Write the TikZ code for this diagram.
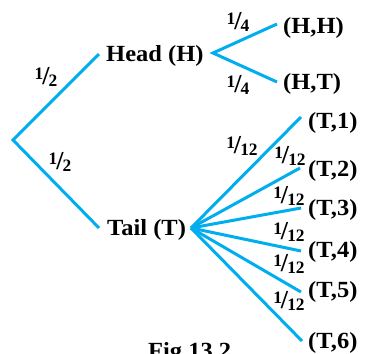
\documentclass[tikz,border=0pt]{standalone}
\usepackage{fontspec}
\setmainfont{Liberation Serif}
\newfontfamily\lblfont[FakeStretch=1.06]{Liberation Serif}
\definecolor{tb}{RGB}{0,174,239}
\newcommand{\fr}[2]{\raisebox{0.3em}{#1}\kern-0.06em{\fontsize{26}{26}\selectfont /}\kern-0.05em\raisebox{-0.1em}{#2}}
\begin{document}
\begin{tikzpicture}[x=1bp,y=-1bp,
  br/.style={draw=tb,line width=3bp},
  lbl/.style={font=\lblfont\fontsize{23.2}{23.2}\selectfont\bfseries,inner sep=0pt,anchor=base west},
  frl/.style={font=\fontsize{17.5}{17.5}\selectfont\bfseries,inner sep=0pt}]
\useasboundingbox (0,0) rectangle (367,354);
% vertices
\coordinate (root) at (13,140);
\coordinate (hin) at (99,54);
\coordinate (hout) at (213,53);
\coordinate (tin) at (99,228);
\coordinate (tout) at (191,228);
\coordinate (hh) at (277,24);
\coordinate (ht) at (277,82);
\coordinate (t1) at (301,117);
\coordinate (t2) at (300,168);
\coordinate (t3) at (301,208);
\coordinate (t4) at (301,251);
\coordinate (t5) at (301,292);
\coordinate (t6) at (302,341);
% texts
\node[lbl] (H) at (106,61) {Head (H)};
\node[lbl] (T) at (107,235) {Tail (T)};
\node[lbl] (HH) at (283,33) {(H,H)};
\node[lbl] (HT) at (283,89) {(H,T)};
\node[lbl] (T1) at (308,128) {(T,1)};
\node[lbl] (T2) at (308,176) {(T,2)};
\node[lbl] (T3) at (308,215) {(T,3)};
\node[lbl] (T4) at (308,257) {(T,4)};
\node[lbl] (T5) at (308,297) {(T,5)};
\node[lbl] (T6) at (308,348) {(T,6)};
\node[lbl] (fig) at (148,358) {Fig 13.2};
% branches
\draw[br,line join=miter] (hin) -- (root) -- (tin);
\draw[br,line join=miter] (hh) -- (hout) -- (ht);
\foreach \e in {t1,t2,t3,t4,t5,t6} \draw[br] (tout) -- (\e);
% probabilities
\node[frl] (p1) at (46,77) {\fr{1}{2}};
\node[frl] (p2) at (60,162) {\fr{1}{2}};
\node[frl] (p3) at (238,22) {\fr{1}{4}};
\node[frl] (p4) at (238,85) {\fr{1}{4}};
\node[frl] (q1) at (242,146) {\fr{1}{12}};
\node[frl] (q2) at (290,156) {\fr{1}{12}};
\node[frl] (q3) at (289,196) {\fr{1}{12}};
\node[frl] (q4) at (289,232) {\fr{1}{12}};
\node[frl] (q5) at (289,264) {\fr{1}{12}};
\node[frl] (q6) at (289,301) {\fr{1}{12}};
\end{tikzpicture}
\end{document}
